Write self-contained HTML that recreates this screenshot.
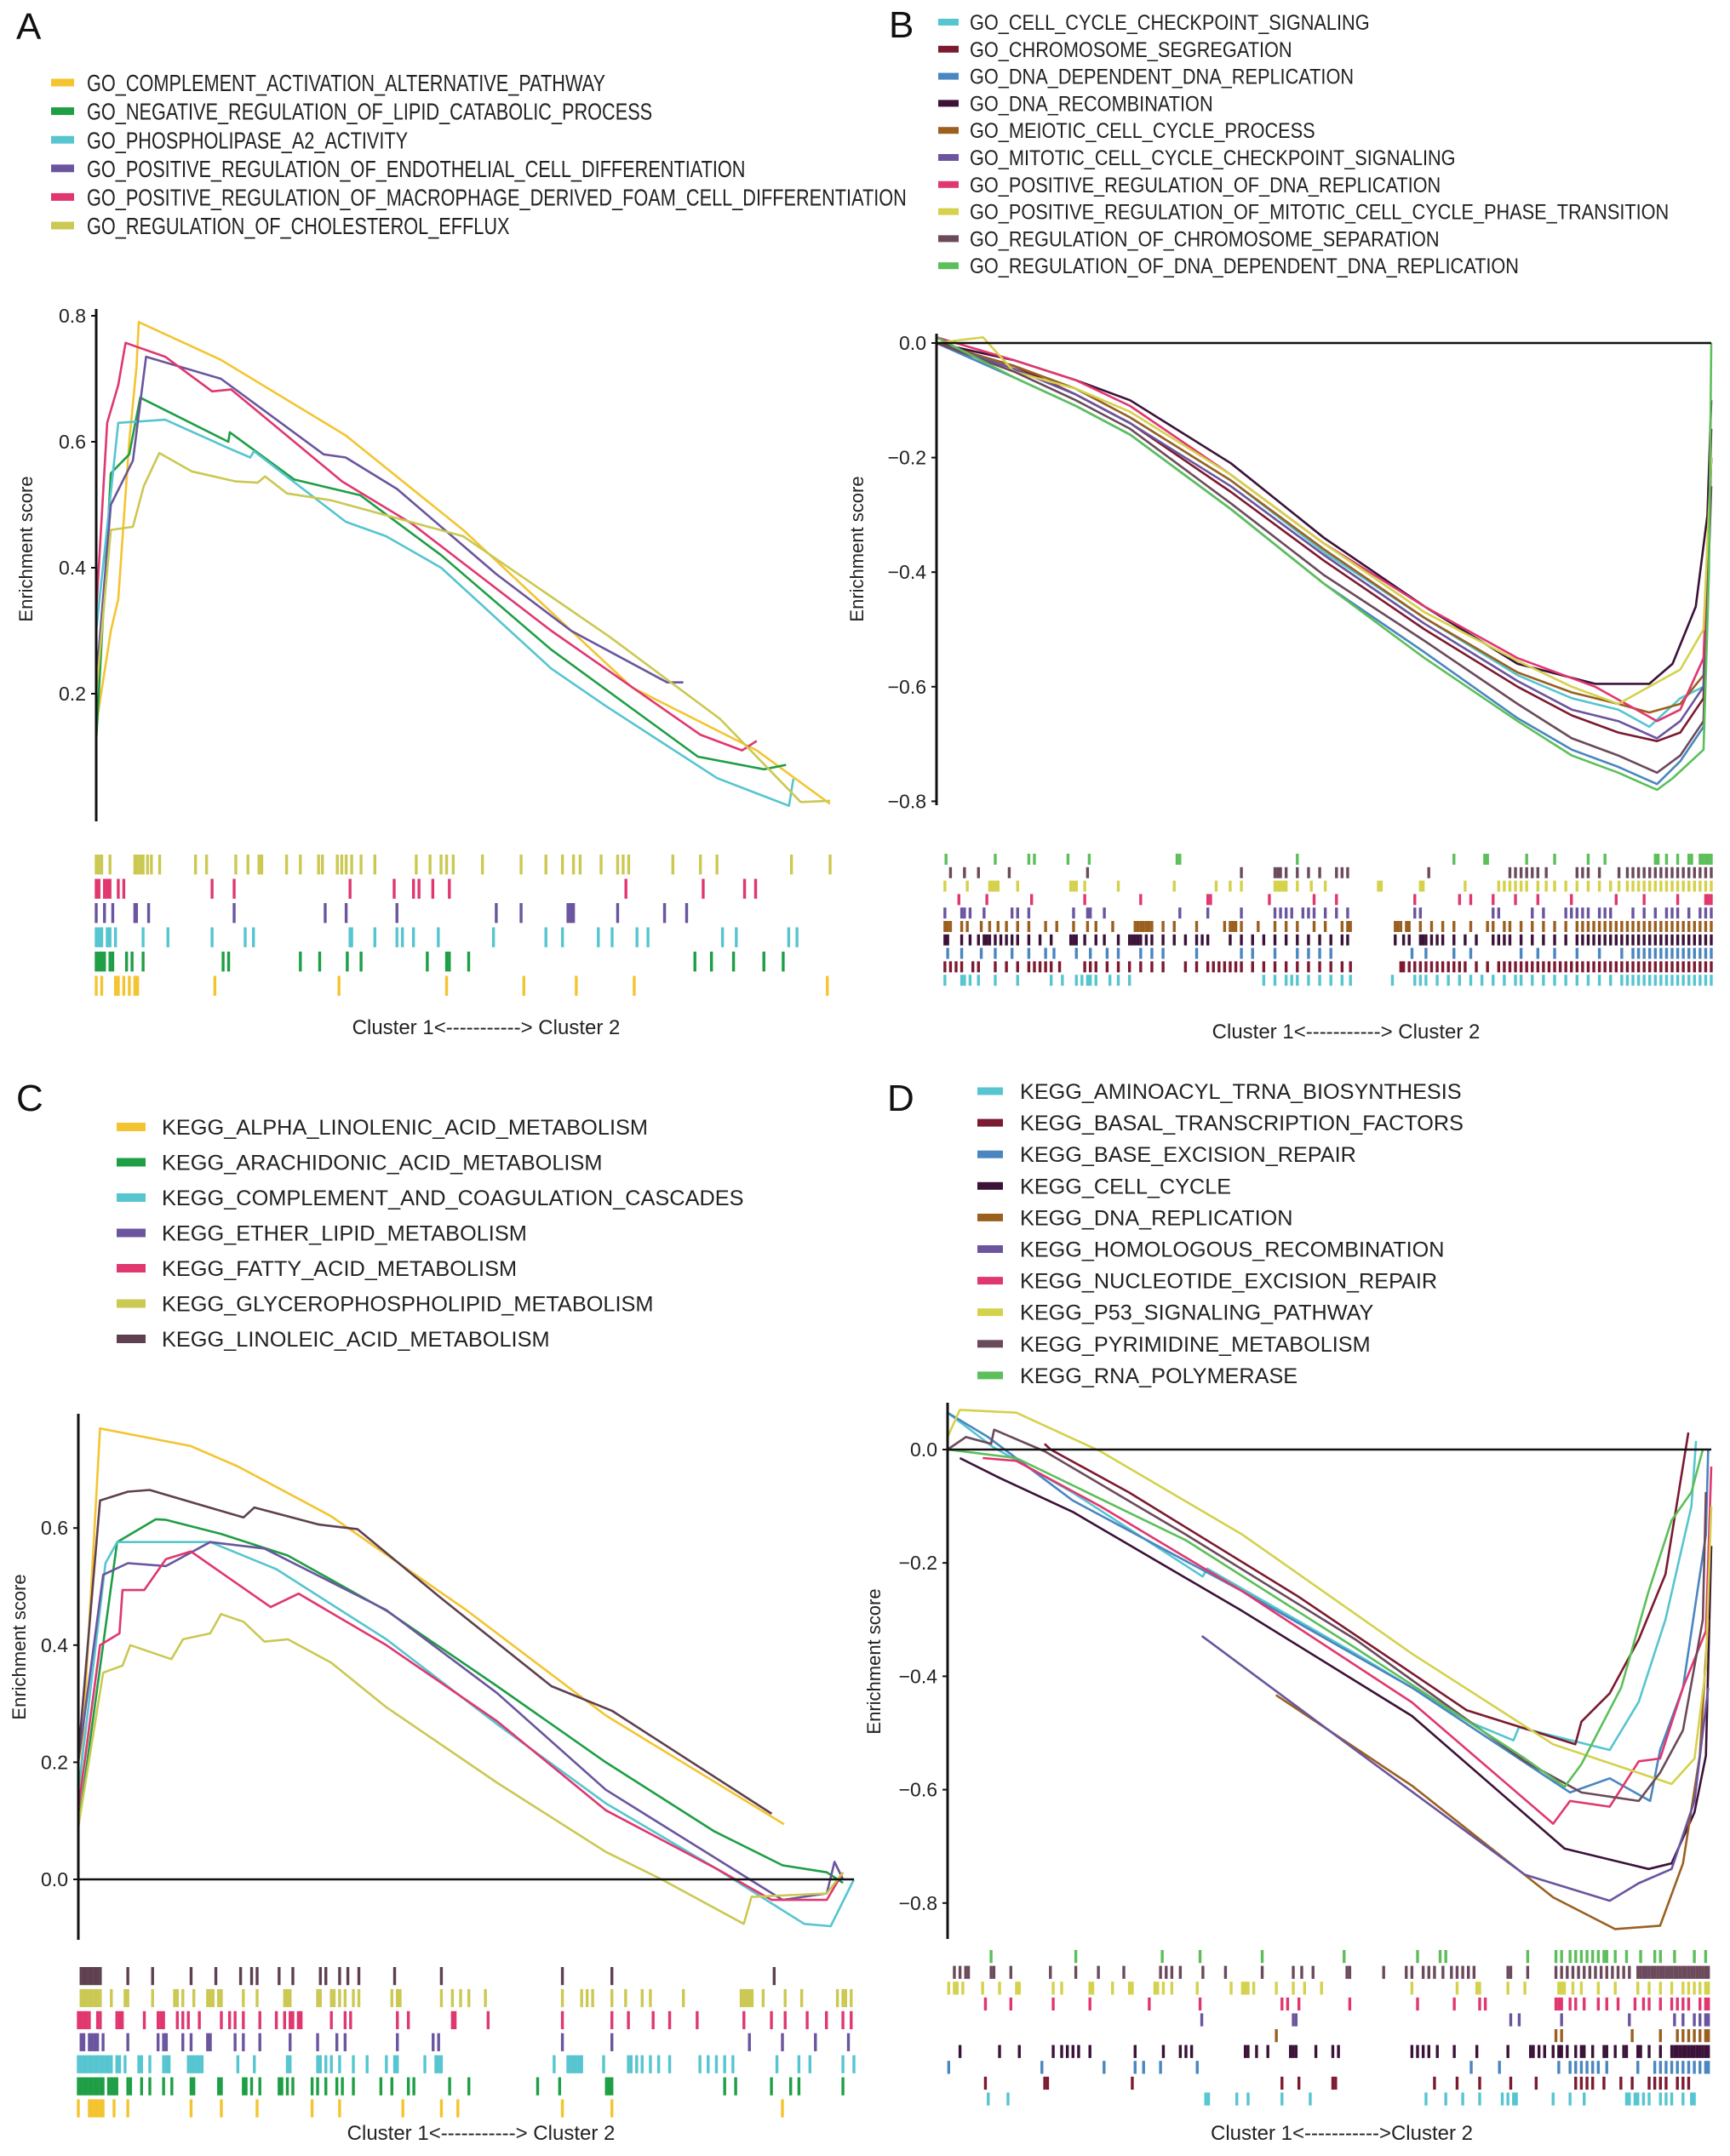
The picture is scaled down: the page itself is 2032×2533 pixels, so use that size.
<!DOCTYPE html>
<html><head><meta charset="utf-8"><style>
html,body{margin:0;padding:0;background:#fff;}
svg{display:block;font-family:"Liberation Sans",Arial,sans-serif;}
</style></head><body>
<svg id="fig" width="2032" height="2533" viewBox="0 0 2032 2533" xmlns="http://www.w3.org/2000/svg"></svg>
<script>
// ---------- Panel A data ----------
const namesA = ["GO_COMPLEMENT_ACTIVATION_ALTERNATIVE_PATHWAY","GO_NEGATIVE_REGULATION_OF_LIPID_CATABOLIC_PROCESS","GO_PHOSPHOLIPASE_A2_ACTIVITY","GO_POSITIVE_REGULATION_OF_ENDOTHELIAL_CELL_DIFFERENTIATION","GO_POSITIVE_REGULATION_OF_MACROPHAGE_DERIVED_FOAM_CELL_DIFFERENTIATION","GO_REGULATION_OF_CHOLESTEROL_EFFLUX"];
const colorsA = ["#f4c430","#1e9e45","#56c5d0","#6a559e","#e0376f","#cbc853"];
const ticksA = [0.2,0.4,0.6,0.8];
const curveA0 = [[0,0.15],[0.02,0.3],[0.03,0.35],[0.045,0.6],[0.055,0.72],[0.058,0.79],[0.17,0.73],[0.34,0.61],[0.5,0.46],[0.73,0.21],[0.9,0.11],[1.0,0.025]];
const curveA1 = [[0,0.125],[0.02,0.55],[0.045,0.58],[0.06,0.67],[0.18,0.60],[0.182,0.615],[0.27,0.54],[0.36,0.515],[0.47,0.42],[0.62,0.27],[0.82,0.1],[0.91,0.08],[0.94,0.087]];
const curveA2 = [[0,0.3],[0.03,0.63],[0.094,0.635],[0.18,0.59],[0.21,0.575],[0.215,0.585],[0.34,0.473],[0.395,0.45],[0.47,0.40],[0.62,0.24],[0.695,0.18],[0.846,0.066],[0.944,0.022],[0.95,0.065]];
const curveA3 = [[0,0.22],[0.02,0.5],[0.05,0.57],[0.068,0.735],[0.17,0.70],[0.31,0.58],[0.34,0.575],[0.41,0.525],[0.545,0.39],[0.647,0.30],[0.778,0.218],[0.8,0.218]];
const curveA4 = [[0,0.33],[0.015,0.63],[0.03,0.69],[0.04,0.757],[0.094,0.735],[0.158,0.68],[0.184,0.683],[0.335,0.537],[0.43,0.47],[0.62,0.30],[0.823,0.135],[0.88,0.11],[0.9,0.125]];
const curveA5 = [[0,0.2],[0.02,0.46],[0.05,0.465],[0.065,0.53],[0.086,0.582],[0.13,0.553],[0.19,0.537],[0.22,0.535],[0.23,0.545],[0.26,0.518],[0.32,0.507],[0.5,0.45],[0.7,0.29],[0.85,0.16],[0.96,0.028],[1.0,0.03]];
const rugA0 = [175,180,185,200,245,250,255,260,268,275,290,355,375,428,450,470,475,520,545,578,585,612,620,628,638,655,680,755,780,800,810,822,875,945,990,1020,1040,1052,1090,1120,1130,1140,1220,1270,1300,1435,1505];
const rugA1 = [175,180,190,195,200,215,225,385,425,635,715,750,760,785,815,1135,1275,1350,1370];
const rugA2 = [175,190,205,245,248,270,425,590,628,720,900,945,1030,1035,1040,1120,1205,1245];
const rugA3 = [175,180,185,195,200,210,260,305,385,445,460,635,638,680,720,730,750,795,895,990,1020,1085,1110,1155,1175,1310,1335,1430,1445];
const rugA4 = [175,180,185,190,200,205,230,240,260,405,415,545,580,630,655,775,810,815,850,1260,1290,1330,1385,1420];
const rugA5 = [175,185,210,215,225,235,245,250,390,615,810,950,1045,1150,1500];

// ---------- Panel B data ----------
const namesB = ["GO_CELL_CYCLE_CHECKPOINT_SIGNALING","GO_CHROMOSOME_SEGREGATION","GO_DNA_DEPENDENT_DNA_REPLICATION","GO_DNA_RECOMBINATION","GO_MEIOTIC_CELL_CYCLE_PROCESS","GO_MITOTIC_CELL_CYCLE_CHECKPOINT_SIGNALING","GO_POSITIVE_REGULATION_OF_DNA_REPLICATION","GO_POSITIVE_REGULATION_OF_MITOTIC_CELL_CYCLE_PHASE_TRANSITION","GO_REGULATION_OF_CHROMOSOME_SEPARATION","GO_REGULATION_OF_DNA_DEPENDENT_DNA_REPLICATION"];
const colorsB = ["#56c5d0","#7c1a30","#4a86c0","#3b1238","#9b6020","#6a559e","#e0376f","#d4d14c","#6b4a5c","#5cbf5a"];
const ticksB = [0.0,-0.2,-0.4,-0.6,-0.8];
const curveB0 = [[0,0],[0.1,-0.04],[0.18,-0.08],[0.25,-0.13],[0.38,-0.24],[0.5,-0.365],[0.63,-0.48],[0.75,-0.58],[0.82,-0.62],[0.88,-0.64],[0.92,-0.67],[0.96,-0.62],[0.99,-0.6],[1,-0.2]];
const curveB1 = [[0,0],[0.1,-0.04],[0.18,-0.09],[0.25,-0.14],[0.38,-0.26],[0.5,-0.38],[0.63,-0.5],[0.75,-0.6],[0.82,-0.65],[0.88,-0.68],[0.93,-0.695],[0.96,-0.68],[0.99,-0.62],[1,-0.15]];
const curveB2 = [[0,0],[0.1,-0.06],[0.18,-0.11],[0.25,-0.16],[0.38,-0.29],[0.5,-0.42],[0.63,-0.54],[0.75,-0.655],[0.82,-0.71],[0.88,-0.74],[0.93,-0.77],[0.96,-0.73],[0.99,-0.67],[1,-0.2]];
const curveB3 = [[0,0],[0.1,-0.03],[0.18,-0.065],[0.25,-0.1],[0.38,-0.21],[0.5,-0.34],[0.63,-0.46],[0.75,-0.56],[0.85,-0.595],[0.92,-0.595],[0.95,-0.56],[0.98,-0.46],[0.995,-0.3],[1,-0.1]];
const curveB4 = [[0,0],[0.1,-0.04],[0.18,-0.08],[0.25,-0.13],[0.38,-0.24],[0.5,-0.36],[0.63,-0.48],[0.75,-0.575],[0.82,-0.61],[0.88,-0.63],[0.92,-0.645],[0.96,-0.63],[0.99,-0.58],[1,-0.2]];
const curveB5 = [[0,0],[0.1,-0.045],[0.18,-0.09],[0.25,-0.14],[0.38,-0.25],[0.5,-0.37],[0.63,-0.49],[0.75,-0.59],[0.82,-0.64],[0.88,-0.66],[0.93,-0.69],[0.96,-0.66],[0.99,-0.6],[1,-0.2]];
const curveB6 = [[0,0.01],[0.1,-0.03],[0.18,-0.065],[0.25,-0.11],[0.38,-0.23],[0.5,-0.35],[0.63,-0.46],[0.75,-0.55],[0.85,-0.6],[0.93,-0.66],[0.96,-0.64],[0.99,-0.55],[1,-0.2]];
const curveB7 = [[0,0],[0.06,0.01],[0.1,-0.05],[0.18,-0.08],[0.25,-0.12],[0.38,-0.23],[0.5,-0.35],[0.63,-0.47],[0.75,-0.555],[0.82,-0.6],[0.88,-0.63],[0.92,-0.6],[0.96,-0.57],[0.99,-0.5],[1,-0.2]];
const curveB8 = [[0,0],[0.1,-0.05],[0.18,-0.1],[0.25,-0.15],[0.38,-0.28],[0.5,-0.405],[0.63,-0.52],[0.75,-0.63],[0.82,-0.69],[0.88,-0.72],[0.93,-0.75],[0.96,-0.72],[0.99,-0.66],[1,-0.25]];
const curveB9 = [[0,0.01],[0.1,-0.06],[0.18,-0.11],[0.25,-0.16],[0.38,-0.29],[0.5,-0.42],[0.63,-0.55],[0.75,-0.66],[0.82,-0.72],[0.88,-0.75],[0.93,-0.78],[0.95,-0.76],[0.99,-0.71],[0.997,-0.4],[1,0]];
const rugB9 = [172,260,320,330,390,428,585,590,800,1080,1135,1140,1210,1260,1320,1350,1440,1445,1460,1480,1500,1505,1520,1525,1530,1535,1540];
const rugB8 = [180,205,230,285,425,700,760,765,770,780,800,820,840,870,880,890,1035,1180,1190,1200,1210,1220,1230,1245,1300,1310,1320,1340,1375,1390,1400,1410,1420,1430,1440,1450,1460,1470,1480,1490,1500,1510,1520,1530,1540];
const rugB7 = [170,210,250,255,260,265,300,395,400,405,420,480,580,655,680,700,760,765,770,775,780,800,825,850,945,950,1020,1025,1100,1160,1170,1180,1190,1200,1210,1230,1245,1260,1280,1300,1320,1340,1360,1375,1390,1400,1410,1420,1430,1440,1450,1460,1470,1480,1490,1500,1510,1520,1530,1540];
const rugB6 = [195,245,325,420,520,640,645,750,830,870,1010,1090,1110,1150,1190,1230,1290,1370,1420,1480,1530,1535,1540];
const rugB5 = [170,200,205,215,240,290,300,320,400,425,430,455,590,640,700,760,770,780,790,810,820,830,850,870,890,1010,1020,1150,1160,1220,1240,1280,1290,1300,1310,1320,1340,1350,1360,1400,1420,1440,1460,1470,1480,1500,1520,1530,1540];
const rugB4 = [170,175,180,200,210,235,250,265,280,300,320,350,370,400,425,440,470,510,515,520,525,530,535,540,560,580,620,670,680,685,690,700,730,760,780,800,830,850,880,890,895,975,980,985,995,1000,1020,1040,1060,1080,1110,1140,1150,1170,1180,1200,1220,1240,1260,1280,1300,1310,1320,1330,1340,1350,1360,1370,1380,1390,1400,1410,1420,1430,1440,1450,1460,1470,1480,1490,1500,1510,1520,1530,1540];
const rugB3 = [170,175,200,215,230,240,245,250,260,270,280,290,300,320,340,360,395,400,405,420,440,455,480,500,505,510,515,520,530,540,560,580,600,620,630,640,680,700,720,740,760,780,800,820,840,860,880,890,975,990,1000,1020,1025,1030,1040,1050,1060,1080,1100,1120,1150,1160,1170,1180,1200,1220,1240,1260,1280,1300,1310,1320,1330,1340,1350,1360,1370,1380,1390,1400,1410,1420,1430,1440,1450,1460,1470,1480,1490,1500,1510,1520,1530,1540];
const rugB2 = [175,200,235,260,290,320,350,365,405,430,460,480,520,540,560,620,700,720,760,800,820,840,860,1005,1030,1080,1110,1200,1230,1260,1300,1340,1380,1400,1410,1420,1430,1440,1450,1460,1470,1480,1490,1500,1510,1520,1530,1540];
const rugB1 = [170,180,190,200,220,230,260,280,300,320,330,340,350,360,375,420,430,440,460,480,500,520,540,560,600,620,640,650,660,670,680,690,700,720,740,760,780,800,820,840,860,880,895,985,990,1000,1010,1020,1030,1040,1050,1060,1070,1080,1090,1100,1120,1140,1160,1170,1180,1190,1200,1210,1220,1230,1240,1250,1260,1270,1280,1290,1300,1310,1320,1330,1340,1350,1360,1370,1380,1390,1400,1410,1420,1430,1440,1450,1460,1470,1480,1490,1500,1510,1520,1530,1540];
const rugB0 = [170,200,205,215,230,260,300,360,380,405,415,425,430,440,465,480,500,740,760,780,790,800,820,840,860,880,895,970,1010,1020,1030,1050,1070,1090,1110,1130,1150,1170,1190,1200,1220,1240,1260,1280,1300,1320,1340,1360,1380,1390,1400,1410,1420,1430,1440,1450,1460,1470,1480,1490,1500,1510,1520,1530,1540];

// ---------- Panel C data ----------
const namesC = ["KEGG_ALPHA_LINOLENIC_ACID_METABOLISM","KEGG_ARACHIDONIC_ACID_METABOLISM","KEGG_COMPLEMENT_AND_COAGULATION_CASCADES","KEGG_ETHER_LIPID_METABOLISM","KEGG_FATTY_ACID_METABOLISM","KEGG_GLYCEROPHOSPHOLIPID_METABOLISM","KEGG_LINOLEIC_ACID_METABOLISM"];
const colorsC = ["#f4c430","#1e9e45","#56c5d0","#6a559e","#e0376f","#cbc853","#5e4050"];
const ticksC = [0.0,0.2,0.4,0.6];
const curveC0 = [[0,0.1],[0.028,0.77],[0.145,0.74],[0.206,0.705],[0.326,0.62],[0.5,0.46],[0.68,0.28],[0.91,0.094]];
const curveC1 = [[0,0.09],[0.05,0.576],[0.1,0.615],[0.113,0.614],[0.184,0.59],[0.27,0.553],[0.397,0.459],[0.54,0.33],[0.68,0.2],[0.82,0.082],[0.908,0.024],[0.965,0.012],[0.986,-0.006]];
const curveC2 = [[0,0.15],[0.035,0.54],[0.05,0.576],[0.113,0.576],[0.17,0.576],[0.255,0.53],[0.397,0.41],[0.54,0.265],[0.68,0.13],[0.823,0.018],[0.936,-0.076],[0.97,-0.08],[1,0]];
const curveC3 = [[0,0.2],[0.032,0.52],[0.064,0.54],[0.113,0.535],[0.17,0.576],[0.24,0.565],[0.397,0.46],[0.54,0.318],[0.68,0.153],[0.823,0.035],[0.908,-0.035],[0.965,-0.024],[0.975,0.03],[0.986,0]];
const curveC4 = [[0,0.12],[0.028,0.4],[0.053,0.42],[0.057,0.494],[0.085,0.494],[0.113,0.547],[0.145,0.56],[0.248,0.465],[0.284,0.488],[0.397,0.4],[0.54,0.27],[0.68,0.118],[0.823,0.018],[0.894,-0.035],[0.965,-0.035],[0.986,0.012]];
const curveC5 = [[0,0.09],[0.032,0.353],[0.057,0.365],[0.067,0.4],[0.12,0.376],[0.135,0.41],[0.17,0.42],[0.184,0.453],[0.213,0.44],[0.24,0.406],[0.27,0.41],[0.326,0.37],[0.397,0.294],[0.54,0.165],[0.68,0.047],[0.752,0],[0.858,-0.076],[0.868,-0.03],[0.965,-0.024],[0.986,0.012]];
const curveC6 = [[0,0.21],[0.028,0.647],[0.064,0.662],[0.092,0.665],[0.213,0.618],[0.227,0.635],[0.31,0.606],[0.36,0.598],[0.468,0.48],[0.61,0.33],[0.688,0.288],[0.894,0.112]];
const rugC6 = [145,150,155,160,165,170,175,180,230,275,345,390,435,455,465,505,530,580,590,615,630,650,715,800,1020,1110,1405];
const rugC5 = [145,150,155,160,165,170,175,180,200,225,230,275,315,320,330,350,375,380,385,395,400,440,465,515,520,525,575,580,600,605,615,625,640,650,710,720,725,800,820,835,850,880,1020,1055,1065,1075,1110,1135,1165,1180,1240,1345,1350,1355,1360,1365,1385,1425,1455,1520,1530,1535,1545];
const rugC4 = [140,145,150,155,160,175,180,210,215,220,260,285,290,295,320,330,340,360,400,415,425,440,470,500,515,525,530,540,545,600,625,635,720,740,820,825,885,1020,1110,1140,1185,1215,1265,1350,1400,1425,1465,1500,1530,1545];
const rugC3 = [145,150,160,165,170,175,185,230,285,295,300,330,345,375,380,425,440,470,525,575,610,625,720,785,795,1020,1110,1360,1420,1480,1540];
const rugC2 = [140,145,150,155,160,165,170,175,180,185,190,195,200,210,215,225,250,255,270,295,300,305,340,345,350,355,360,365,430,460,520,525,575,580,590,600,615,640,665,700,715,720,770,790,795,800,1005,1030,1035,1040,1045,1050,1055,1095,1140,1145,1155,1165,1180,1195,1215,1270,1285,1300,1315,1330,1410,1450,1470,1530,1550];
const rugC1 = [140,145,150,155,160,165,170,175,180,185,195,200,205,210,230,235,255,270,295,310,345,350,395,400,440,445,455,470,505,510,520,530,565,575,590,610,620,640,690,710,740,750,815,850,975,1015,1100,1105,1110,1315,1335,1400,1435,1450,1530];
const rugC0 = [140,160,165,170,175,180,185,205,230,345,400,465,565,615,730,800,830,1020,1110,1420];

// ---------- Panel D data ----------
const namesD = ["KEGG_AMINOACYL_TRNA_BIOSYNTHESIS","KEGG_BASAL_TRANSCRIPTION_FACTORS","KEGG_BASE_EXCISION_REPAIR","KEGG_CELL_CYCLE","KEGG_DNA_REPLICATION","KEGG_HOMOLOGOUS_RECOMBINATION","KEGG_NUCLEOTIDE_EXCISION_REPAIR","KEGG_P53_SIGNALING_PATHWAY","KEGG_PYRIMIDINE_METABOLISM","KEGG_RNA_POLYMERASE"];
const colorsD = ["#56c5d0","#7c1a30","#4a86c0","#3b1238","#9b6020","#6a559e","#e0376f","#d4d14c","#6b4a5c","#5cbf5a"];
const ticksD = [0.0,-0.2,-0.4,-0.6,-0.8];
const curveD0 = [[0,0.065],[0.06,0.004],[0.164,-0.076],[0.334,-0.224],[0.34,-0.21],[0.534,-0.36],[0.682,-0.48],[0.741,-0.513],[0.748,-0.49],[0.867,-0.53],[0.905,-0.445],[0.94,-0.3],[0.974,-0.1],[0.98,0.015]];
const curveD1 = [[0.127,0.01],[0.135,0],[0.238,-0.076],[0.46,-0.26],[0.68,-0.46],[0.822,-0.52],[0.83,-0.48],[0.867,-0.43],[0.905,-0.335],[0.94,-0.22],[0.97,0.03]];
const curveD2 = [[0,0.065],[0.053,0.022],[0.164,-0.09],[0.386,-0.25],[0.608,-0.42],[0.815,-0.605],[0.867,-0.58],[0.92,-0.62],[0.933,-0.53],[0.963,-0.42],[0.993,-0.15],[0.996,0]];
const curveD3 = [[0.016,-0.015],[0.068,-0.05],[0.164,-0.11],[0.386,-0.285],[0.608,-0.47],[0.808,-0.704],[0.918,-0.74],[0.948,-0.73],[0.978,-0.64],[0.993,-0.54],[1,-0.17]];
const curveD4 = [[0.43,-0.433],[0.608,-0.593],[0.793,-0.79],[0.874,-0.846],[0.933,-0.84],[0.963,-0.73],[0.985,-0.54],[0.996,-0.3]];
const curveD5 = [[0.333,-0.329],[0.534,-0.53],[0.756,-0.75],[0.867,-0.796],[0.905,-0.765],[0.948,-0.74],[0.978,-0.62],[0.996,-0.42]];
const curveD6 = [[0.046,-0.015],[0.09,-0.02],[0.2,-0.1],[0.386,-0.25],[0.608,-0.446],[0.793,-0.66],[0.815,-0.62],[0.867,-0.63],[0.905,-0.55],[0.933,-0.545],[0.963,-0.42],[0.993,-0.32],[1,-0.03]];
const curveD7 = [[0,0.022],[0.016,0.07],[0.09,0.065],[0.2,-0.003],[0.386,-0.15],[0.608,-0.36],[0.793,-0.52],[0.882,-0.56],[0.948,-0.59],[0.978,-0.545],[0.993,-0.385],[1,-0.1]];
const curveD8 = [[0,0],[0.024,0.022],[0.057,0.01],[0.061,0.035],[0.127,-0.003],[0.312,-0.15],[0.534,-0.335],[0.756,-0.55],[0.83,-0.605],[0.905,-0.62],[0.933,-0.57],[0.963,-0.495],[0.989,-0.3],[0.993,-0.075]];
const curveD9 = [[0,0],[0.09,-0.015],[0.312,-0.16],[0.534,-0.35],[0.756,-0.545],[0.808,-0.595],[0.83,-0.555],[0.882,-0.42],[0.918,-0.25],[0.948,-0.125],[0.974,-0.075],[0.989,0]];
const rugD9 = [255,405,558,625,735,880,1010,1050,1060,1205,1255,1265,1280,1290,1300,1310,1320,1330,1340,1345,1360,1380,1405,1430,1440,1465,1500,1520];
const rugD8 = [190,200,210,215,255,260,290,360,405,445,490,555,565,575,590,630,670,735,790,805,825,885,890,950,990,1000,1020,1030,1040,1055,1070,1080,1090,1100,1110,1170,1175,1205,1255,1265,1275,1285,1295,1305,1315,1325,1335,1345,1355,1365,1375,1385,1400,1405,1410,1415,1420,1425,1430,1435,1440,1445,1450,1455,1460,1465,1470,1475,1480,1485,1490,1495,1500,1505,1510,1515,1520,1525];
const rugD7 = [180,190,195,205,240,270,300,305,365,380,430,435,470,500,505,545,550,560,575,620,680,700,705,710,720,760,790,810,840,1000,1080,1115,1120,1170,1200,1260,1265,1270,1285,1300,1330,1360,1400,1420,1440,1460,1480,1490,1500,1510,1520,1525];
const rugD6 = [245,290,365,430,535,625,770,780,800,890,1010,1075,1120,1130,1255,1260,1265,1280,1290,1305,1330,1345,1365,1395,1410,1420,1440,1460,1470,1480,1490,1510,1520,1525];
const rugD5 = [628,790,795,1175,1190,1265,1385,1465,1480,1500,1510,1520,1525];
const rugD4 = [760,1255,1265,1390,1440,1470,1480,1490,1500,1510,1520,1525];
const rugD3 = [200,270,305,365,380,390,400,410,430,510,560,590,600,610,705,710,725,745,785,790,795,830,860,870,1000,1010,1020,1030,1045,1075,1115,1170,1210,1215,1225,1235,1250,1260,1265,1275,1290,1300,1305,1320,1340,1345,1360,1375,1380,1400,1405,1420,1440,1460,1465,1470,1475,1480,1485,1490,1495,1500,1505,1510,1515,1520,1525];
const rugD2 = [180,345,455,510,525,555,620,1105,1155,1260,1280,1290,1300,1310,1320,1330,1345,1400,1430,1440,1450,1460,1470,1480,1490,1500,1510,1520,1525];
const rugD1 = [245,350,355,505,770,800,860,865,1040,1080,1120,1175,1220,1290,1300,1310,1320,1340,1370,1390,1420,1430,1440,1450,1470,1480,1490];
const rugD0 = [250,285,635,640,690,710,770,820,1025,1060,1090,1120,1160,1170,1180,1185,1250,1280,1305,1380,1385,1395,1400,1410,1420,1440,1450,1460,1480,1495,1500];

const NS = "http://www.w3.org/2000/svg";
const svg = document.getElementById('fig');
function mk(tag, attrs, parent){const e=document.createElementNS(NS,tag);for(const k in attrs)e.setAttribute(k,attrs[k]);(parent||svg).appendChild(e);return e;}

function panel(cfg){
  const g = mk('g',{});
  
  
  const xS = f => cfg.x0 + f*(cfg.x1-cfg.x0);
  const yS = v => cfg.yRef - (v-cfg.vRef)*cfg.pxPerUnit;
  const rS = r => cfg.x0 + (r-cfg.rDom[0])/(cfg.rDom[1]-cfg.rDom[0])*(cfg.x1-cfg.x0);
  const L = mk('text',{x:cfg.letterX,y:cfg.letterY,'font-size':44,fill:'#111'},g);
  L.textContent = cfg.id.toUpperCase();
  
  
  const lg = mk('g',{},g);
  
  
  const texts=[];
  cfg.names.forEach((n,i)=>{
    const cy = cfg.legY + i*cfg.legDy;
    const eg = mk('g',{},lg);
    
    
    const r = mk('rect',{x:cfg.swX,y:cy-cfg.swH/2,width:cfg.swW,height:cfg.swH,fill:cfg.colors[i]},eg);
    
    
    const t = mk('text',{x:0,y:0,'font-size':cfg.legFont,fill:'#222'},eg);
    t.textContent = n;
    
    
    texts.push([t,cy]);
  });
  let maxW=0; texts.forEach(([t])=>{maxW=Math.max(maxW,t.getComputedTextLength());});
  const sc = maxW>0 ? cfg.legW/maxW : 0.85;
  texts.forEach(([t,cy])=>{t.setAttribute('transform',`translate(${cfg.txX},${cy+cfg.legFont*0.36}) scale(${sc},1)`);});
  cfg.curves.forEach((c,i)=>{
    const p = mk('polyline',{points:c.map(d=>xS(d[0]).toFixed(1)+','+yS(d[1]).toFixed(1)).join(' '),fill:'none',stroke:cfg.colors[i],'stroke-width':2.6,'stroke-linejoin':'round'},g);
    
    
  });
  if(cfg.zero){
    const z = mk('line',{x1:cfg.x0,x2:cfg.x1,y1:yS(0),y2:yS(0),stroke:'#111','stroke-width':2.5},g);
    
    
  }
  const ax = mk('line',{x1:cfg.x0,x2:cfg.x0,y1:cfg.axTop,y2:cfg.axBot,stroke:'#111','stroke-width':3},g);
  
  
  cfg.ticks.forEach(v=>{
    const tk = mk('line',{x1:cfg.x0-6,x2:cfg.x0,y1:yS(v),y2:yS(v),stroke:'#111','stroke-width':2},g);
    
    
    const tl = mk('text',{x:cfg.x0-12,y:yS(v)+8,'font-size':23,'text-anchor':'end',fill:'#222'},g);
    tl.textContent = (v<0?'\u2212':'')+Math.abs(v).toFixed(1);
    
    
  });
  const yl = mk('text',{x:0,y:0,'font-size':22,'text-anchor':'middle',fill:'#222',transform:`translate(${cfg.ylX},${cfg.ylY}) rotate(-90)`},g);
  yl.textContent = 'Enrichment score';
  
  
  cfg.rugs.forEach((arr,i)=>{
    const top = cfg.rugTop + i*cfg.rugDy;
    arr.forEach(r=>{
      const b = mk('rect',{x:rS(r)-1.7,y:top,width:3.4,height:cfg.rugDy*0.82,fill:cfg.rugColors[i]},g);
      
      
    });
  });
  const cl = mk('text',{x:cfg.clX,y:cfg.clY,'font-size':24,'text-anchor':'middle',fill:'#222'},g);
  cl.textContent = cfg.clText;
  
  
}

panel({id:'a',names:namesA,colors:colorsA,ticks:ticksA,curves:[curveA0,curveA1,curveA2,curveA3,curveA4,curveA5],
  x0:113,x1:975,yRef:371,vRef:0.8,pxPerUnit:740,axTop:363,axBot:965,zero:false,
  letterX:19,letterY:46,legY:97,legDy:33.6,swX:60,swW:27,swH:9,txX:102,legFont:28,legW:963,
  ylX:38,ylY:645,rDom:[175,1505],rugTop:1004,rugDy:28.5,
  rugs:[rugA0,rugA1,rugA2,rugA3,rugA4,rugA5],rugColors:[colorsA[5],colorsA[4],colorsA[3],colorsA[2],colorsA[1],colorsA[0]],
  clX:571,clY:1215,clText:'Cluster 1<-----------> Cluster 2'});
panel({id:'b',names:namesB,colors:colorsB,ticks:ticksB,curves:[curveB0,curveB1,curveB2,curveB3,curveB4,curveB5,curveB6,curveB7,curveB8,curveB9],
  x0:1100,x1:2010,yRef:403,vRef:0,pxPerUnit:673,axTop:392,axBot:946,zero:true,
  letterX:1044,letterY:44,legY:26,legDy:31.8,swX:1102,swW:24,swH:8,txX:1139,legFont:25,legW:822,
  ylX:1014,ylY:645,rDom:[155,1540],rugTop:1003,rugDy:15.8,
  rugs:[rugB9,rugB8,rugB7,rugB6,rugB5,rugB4,rugB3,rugB2,rugB1,rugB0],rugColors:[colorsB[9],colorsB[8],colorsB[7],colorsB[6],colorsB[5],colorsB[4],colorsB[3],colorsB[2],colorsB[1],colorsB[0]],
  clX:1581,clY:1220,clText:'Cluster 1<-----------> Cluster 2'});
panel({id:'c',names:namesC,colors:colorsC,ticks:ticksC,curves:[curveC0,curveC1,curveC2,curveC3,curveC4,curveC5,curveC6],
  x0:92,x1:1003,yRef:2208,vRef:0,pxPerUnit:688,axTop:1661,axBot:2279,zero:true,
  letterX:19,letterY:1305,legY:1324,legDy:41.5,swX:137,swW:34,swH:10,txX:190,legFont:25,legW:684,
  ylX:30,ylY:1935,rDom:[140,1550],rugTop:2311,rugDy:25.9,
  rugs:[rugC6,rugC5,rugC4,rugC3,rugC2,rugC1,rugC0],rugColors:[colorsC[6],colorsC[5],colorsC[4],colorsC[3],colorsC[2],colorsC[1],colorsC[0]],
  clX:565,clY:2514,clText:'Cluster 1<-----------> Cluster 2'});
panel({id:'d',names:namesD,colors:colorsD,ticks:ticksD,curves:[curveD0,curveD1,curveD2,curveD3,curveD4,curveD5,curveD6,curveD7,curveD8,curveD9],
  x0:1113,x1:2010,yRef:1703,vRef:0,pxPerUnit:666,axTop:1648,axBot:2278,zero:true,
  letterX:1042,letterY:1305,legY:1282,legDy:37.1,swX:1148,swW:30,swH:9,txX:1198,legFont:25,legW:521,
  ylX:1034,ylY:1952,rDom:[178,1530],rugTop:2291,rugDy:18.6,
  rugs:[rugD9,rugD8,rugD7,rugD6,rugD5,rugD4,rugD3,rugD2,rugD1,rugD0],rugColors:[colorsD[9],colorsD[8],colorsD[7],colorsD[6],colorsD[5],colorsD[4],colorsD[3],colorsD[2],colorsD[1],colorsD[0]],
  clX:1576,clY:2514,clText:'Cluster 1<----------->Cluster 2'});
</script>
</body></html>
